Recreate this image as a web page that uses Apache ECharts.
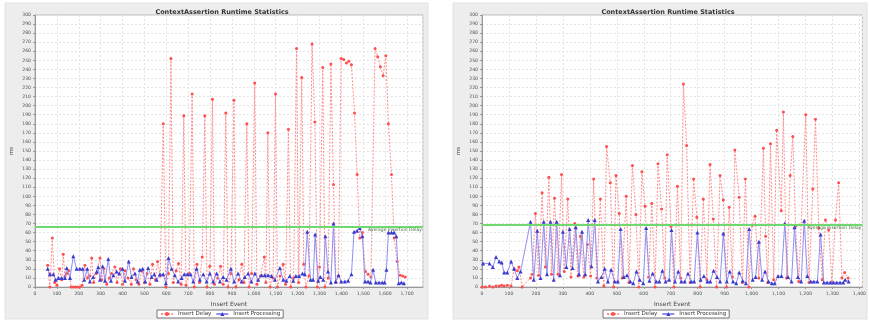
<!DOCTYPE html>
<html>
<head>
<meta charset="utf-8">
<script src="https://cdn.jsdelivr.net/npm/echarts@6/dist/echarts.min.js"></script>
<style>
  html, body { margin: 0; padding: 0; background: #ffffff; }
  #chart { width: 869px; height: 324px; }
</style>
</head>
<body>
<div id="chart"></div>
<script>
// Runtime statistics for two runs: [insert event, ms]
const titleText = 'ContextAssertion Runtime Statistics';
const seriesNames = ['Insert Delay', 'Insert Processing'];
const avgLabel = 'Average Insertion Delay';
const avgDelay = [67, 69];

const leftDelay = [[58,24],[68,0],[79,54],[90,5],[100,2],[112,20],[122,8],[129,36],[137,12],[145,15],[155,18],[165,0],[175,0],[185,0],[195,0],[205,0],[215,2],[228,24],[240,10],[251,12],[259,32],[268,5],[280,15],[297,32],[305,8],[315,20],[328,3],[340,10],[350,15],[365,22],[375,5],[390,20],[400,3],[412,18],[425,10],[440,3],[450,20],[462,8],[475,3],[488,18],[500,5],[512,15],[525,3],[537,25],[550,8],[560,28],[572,12],[586,180],[598,0],[610,15],[621,252],[632,5],[645,18],[656,26],[668,3],[680,189],[690,2],[705,15],[718,213],[728,0],[740,25],[752,5],[764,33],[776,189],[786,0],[799,23],[811,207],[820,3],[835,10],[848,23],[860,3],[872,192],[882,0],[895,15],[909,206],[918,0],[932,8],[945,25],[955,5],[968,180],[978,0],[990,15],[1004,225],[1014,3],[1030,12],[1048,33],[1055,5],[1064,170],[1074,0],[1088,10],[1099,213],[1108,0],[1120,12],[1134,25],[1145,3],[1158,174],[1168,0],[1182,10],[1195,263],[1205,5],[1219,231],[1228,25],[1238,0],[1252,12],[1266,268],[1279,182],[1290,0],[1300,22],[1315,242],[1325,0],[1340,10],[1352,246],[1364,113],[1375,5],[1386,12],[1399,252],[1411,251],[1423,247],[1434,249],[1446,245],[1460,192],[1472,124],[1484,54],[1496,60],[1510,17],[1522,14],[1535,11],[1554,263],[1566,254],[1578,243],[1591,233],[1603,255],[1615,180],[1629,124],[1641,54],[1655,28],[1668,13],[1680,12],[1692,11]];

const leftProcessing = [[58,20],[68,14],[84,14],[94,8],[107,10],[122,10],[137,10],[145,21],[160,10],[175,34],[190,20],[205,20],[218,20],[225,8],[239,20],[251,6],[266,11],[282,17],[289,22],[297,8],[309,23],[320,7],[335,31],[347,7],[358,13],[373,17],[385,15],[400,20],[411,7],[428,28],[441,11],[457,15],[469,6],[479,19],[492,20],[504,6],[517,21],[533,11],[545,14],[556,8],[571,14],[586,14],[598,4],[610,32],[624,20],[639,13],[654,6],[670,10],[682,14],[697,14],[711,14],[723,6],[738,20],[753,8],[769,14],[784,6],[799,15],[814,6],[830,15],[845,6],[860,11],[875,8],[895,20],[910,6],[928,15],[944,6],[959,11],[974,15],[989,6],[1005,15],[1020,8],[1035,13],[1050,13],[1065,13],[1081,12],[1096,8],[1119,21],[1134,8],[1149,7],[1164,12],[1180,7],[1192,12],[1207,12],[1222,15],[1233,14],[1244,61],[1259,8],[1271,8],[1280,58],[1294,7],[1304,11],[1317,8],[1327,56],[1339,17],[1352,5],[1364,70],[1374,6],[1387,13],[1399,6],[1416,6],[1431,7],[1446,14],[1458,61],[1472,62],[1484,65],[1496,56],[1508,6],[1522,6],[1533,5],[1545,19],[1557,5],[1572,5],[1587,5],[1598,5],[1606,19],[1615,60],[1629,60],[1641,60],[1651,56],[1662,4],[1674,5],[1686,4]];

const rightDelay = [[0,0],[12,0],[28,1],[40,0],[52,1],[64,1],[73,2],[82,1],[94,2],[108,1],[119,20],[131,18],[137,22],[149,0],[180,10],[186,14],[198,81],[210,13],[223,104],[235,22],[248,121],[258,14],[269,98],[282,14],[295,124],[305,17],[318,97],[330,11],[344,70],[356,12],[365,56],[378,11],[391,47],[403,12],[414,119],[426,10],[439,97],[452,1],[462,155],[476,115],[488,0],[497,123],[509,81],[520,10],[535,100],[545,5],[558,134],[571,80],[582,0],[593,127],[605,89],[618,11],[630,92],[642,0],[653,136],[666,86],[678,10],[687,146],[701,67],[712,0],[725,111],[737,10],[747,224],[759,156],[772,5],[785,119],[797,77],[809,0],[821,97],[834,8],[846,135],[858,75],[870,0],[883,123],[895,96],[907,0],[917,88],[929,11],[938,151],[954,99],[966,5],[977,119],[990,0],[1002,68],[1013,78],[1027,10],[1044,153],[1052,56],[1060,5],[1070,158],[1082,8],[1093,173],[1110,84],[1118,193],[1130,10],[1143,123],[1153,166],[1163,67],[1175,6],[1201,190],[1213,5],[1227,108],[1237,185],[1249,65],[1262,8],[1274,74],[1286,63],[1298,5],[1311,74],[1323,115],[1335,10],[1345,16],[1358,10]];

const rightProcessing = [[4,26],[28,26],[40,22],[52,33],[64,28],[73,27],[82,16],[94,16],[108,28],[119,20],[131,10],[143,17],[180,72],[192,8],[205,62],[217,10],[229,72],[241,14],[254,72],[266,8],[277,72],[289,13],[300,61],[313,22],[325,64],[336,21],[348,66],[360,14],[371,61],[383,14],[394,74],[406,23],[418,74],[430,6],[443,11],[455,20],[467,6],[479,19],[492,6],[504,6],[514,64],[526,11],[538,13],[550,6],[561,4],[573,17],[585,8],[598,4],[609,65],[621,7],[633,15],[646,6],[658,6],[669,18],[681,6],[694,8],[703,63],[716,6],[728,17],[739,6],[752,6],[764,15],[776,6],[787,6],[799,60],[811,8],[823,12],[836,6],[847,6],[859,18],[872,11],[883,6],[895,59],[908,6],[919,17],[931,6],[943,4],[954,16],[967,7],[979,4],[991,64],[1004,8],[1015,11],[1027,50],[1039,8],[1050,17],[1063,6],[1075,4],[1086,4],[1098,12],[1111,12],[1123,70],[1135,11],[1148,6],[1159,66],[1172,11],[1184,6],[1195,73],[1207,12],[1220,6],[1231,6],[1244,6],[1256,58],[1268,5],[1280,5],[1292,5],[1304,5],[1316,5],[1328,5],[1340,5],[1347,8],[1360,6]];

const panels = [
  { delay: leftDelay, proc: leftProcessing, xMax: 1773, avg: avgDelay[0],
    box: { x: 5, y: 3, w: 423, h: 316 }, grid: { left: 35, top: 15, width: 388, height: 272 },
    titleX: 217, legendX: 157 },
  { delay: rightDelay, proc: rightProcessing, xMax: 1411, avg: avgDelay[1],
    box: { x: 453, y: 3, w: 414, h: 316 }, grid: { left: 482, top: 15, width: 384, height: 272 },
    titleX: 663, legendX: 603 }
];

const FONT = 'DejaVu Sans';
const chart = echarts.init(document.getElementById('chart'), null, { renderer: 'canvas' });

const fmt = v => Math.round(v).toLocaleString('en-US');

const option = {
  animation: false,
  textStyle: { fontFamily: FONT },
  graphic: panels.map(p => ({
    type: 'rect', z: -10, silent: true,
    shape: { x: p.box.x, y: p.box.y, width: p.box.w, height: p.box.h },
    style: { fill: '#ededed', stroke: '#e2e2e2', lineWidth: 1 }
  })),
  title: panels.map(p => ({
    text: titleText, left: p.titleX, top: 4, textAlign: 'center',
    textStyle: { fontFamily: FONT, fontSize: 6.5, fontWeight: 'bold', color: '#333' }
  })),
  legend: panels.map(p => ({
    data: seriesNames, left: p.legendX, top: 310, orient: 'horizontal',
    padding: [1, 3], itemGap: 4, itemWidth: 12, itemHeight: 5,
    borderColor: '#777', borderWidth: 1, backgroundColor: '#ffffff',
    textStyle: { fontFamily: FONT, fontSize: 5.5, color: '#333' }
  })),
  grid: panels.map(p => ({
    left: p.grid.left, top: p.grid.top, width: p.grid.width, height: p.grid.height,
    show: true, backgroundColor: '#ffffff', borderColor: '#b8b8b8', borderWidth: 1
  })),
  xAxis: panels.map((p, i) => ({
    type: 'value', gridIndex: i, min: 0, max: p.xMax, interval: 100,
    name: 'Insert Event', nameLocation: 'middle', nameGap: 14,
    nameTextStyle: { fontFamily: FONT, fontSize: 6, color: '#444' },
    axisLine: { show: true, lineStyle: { color: '#999', width: 1 } },
    axisTick: { show: true, length: 2, lineStyle: { color: '#999' } },
    axisLabel: { fontFamily: FONT, fontSize: 4.6, color: '#555', margin: 4,
      showMaxLabel: false, formatter: fmt },
    splitLine: { show: true, lineStyle: { color: '#e4e4e4', type: [2, 2], width: 1 } }
  })),
  yAxis: panels.map((p, i) => ({
    type: 'value', gridIndex: i, min: 0, max: 300, interval: 10,
    name: 'ms', nameLocation: 'middle', nameGap: 20, nameRotate: 90,
    nameTextStyle: { fontFamily: FONT, fontSize: 5.5, color: '#444' },
    axisLine: { show: true, lineStyle: { color: '#999', width: 1 } },
    axisTick: { show: true, length: 2, lineStyle: { color: '#999' } },
    axisLabel: { fontFamily: FONT, fontSize: 4.6, color: '#555', margin: 4 },
    splitLine: { show: true, lineStyle: { color: '#e4e4e4', type: [2, 2], width: 1 } }
  })),
  series: []
};

panels.forEach((p, i) => {
  option.series.push({
    name: seriesNames[0], type: 'line', xAxisIndex: i, yAxisIndex: i,
    data: p.delay, symbol: 'circle', symbolSize: 3, showSymbol: true,
    lineStyle: { color: '#ff8c8c', width: 1, type: [2, 1.5] },
    itemStyle: { color: '#ff4d4d' }, z: 3,
    markLine: {
      silent: true, symbol: 'none',
      data: [{ yAxis: p.avg }],
      lineStyle: { color: '#6fd96f', width: 2, type: 'solid' },
      label: { show: true, position: 'insideEndBottom', distance: [1, 1],
        formatter: avgLabel, fontFamily: FONT, fontSize: 4.5, color: '#3d6b3d' }
    }
  });
  option.series.push({
    name: seriesNames[1], type: 'line', xAxisIndex: i, yAxisIndex: i,
    data: p.proc, symbol: 'triangle', symbolSize: 4, showSymbol: true,
    lineStyle: { color: '#8f8ff2', width: 1 },
    itemStyle: { color: '#3a3acc' }, z: 4
  });
});

chart.setOption(option);
</script>
</body>
</html>
